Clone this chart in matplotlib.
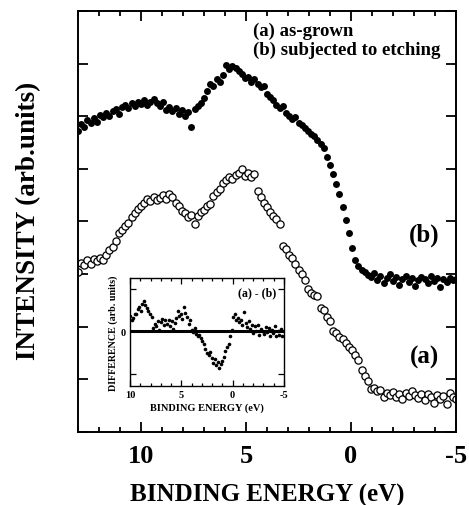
import matplotlib.pyplot as plt
from matplotlib.ticker import MultipleLocator, FixedLocator

plt.rcParams['font.family'] = ['Liberation Serif', 'DejaVu Serif']
plt.rcParams['font.weight'] = 'bold'

# binding energy grid (eV)
energy = [13.00, 12.85, 12.70, 12.55, 12.40, 12.25, 12.10, 11.95, 11.80, 11.65,
          11.50, 11.35, 11.20, 11.05, 10.90, 10.75, 10.60, 10.45, 10.30, 10.15,
          10.00, 9.85, 9.70, 9.55, 9.40, 9.25, 9.10, 8.95, 8.80, 8.65,
          8.50, 8.35, 8.20, 8.05, 7.90, 7.75, 7.60, 7.45, 7.30, 7.15,
          7.00, 6.85, 6.70, 6.55, 6.40, 6.25, 6.10, 5.95, 5.80, 5.65,
          5.50, 5.35, 5.20, 5.05, 4.90, 4.75, 4.60, 4.45, 4.30, 4.15,
          4.00, 3.85, 3.70, 3.55, 3.40, 3.25, 3.10, 2.95, 2.80, 2.65,
          2.50, 2.35, 2.20, 2.05, 1.90, 1.75, 1.60, 1.45, 1.30, 1.15,
          1.00, 0.85, 0.70, 0.55, 0.40, 0.25, 0.10, -0.05, -0.20, -0.35,
          -0.50, -0.65, -0.80, -0.95, -1.10, -1.25, -1.40, -1.55, -1.70, -1.85,
          -2.00, -2.15, -2.30, -2.45, -2.60, -2.75, -2.90, -3.05, -3.20, -3.35,
          -3.50, -3.65, -3.80, -3.95, -4.10, -4.25, -4.40, -4.55, -4.70, -4.85,
          -5.00]

# (b) subjected to etching (filled)
int_b = [5.72, 5.86, 5.80, 5.92, 5.88, 5.96, 5.90, 6.02, 5.98, 6.06,
         6.00, 6.10, 6.14, 6.05, 6.18, 6.22, 6.15, 6.26, 6.20, 6.28,
         6.24, 6.30, 6.22, 6.28, 6.32, 6.25, 6.20, 6.27, 6.12, 6.18,
         6.10, 6.16, 6.04, 6.12, 6.00, 6.08, 5.80, 6.14, 6.20, 6.26,
         6.34, 6.48, 6.62, 6.58, 6.70, 6.66, 6.78, 6.98, 6.90, 6.95,
         6.92, 6.86, 6.80, 6.72, 6.75, 6.66, 6.70, 6.62, 6.55, 6.58,
         6.42, 6.36, 6.30, 6.22, 6.16, 6.20, 6.06, 6.00, 5.95, 5.98,
         5.88, 5.84, 5.78, 5.72, 5.66, 5.62, 5.55, 5.48, 5.40, 5.22,
         5.08, 4.90, 4.72, 4.52, 4.28, 4.02, 3.78, 3.50, 3.26, 3.16,
         3.08, 3.04, 2.98, 2.94, 3.02, 2.88, 2.96, 2.84, 2.92, 3.00,
         2.86, 2.94, 2.80, 2.90, 2.97, 2.85, 2.92, 2.78, 2.88, 2.95,
         2.90, 2.83, 2.96, 2.87, 2.92, 2.76, 2.90, 2.85, 2.93, 2.88,
         2.90]

# (a) as-grown (open)
int_a = [3.04, 3.22, 3.18, 3.26, 3.20, 3.28, 3.24, 3.30, 3.26, 3.36,
         3.46, 3.52, 3.62, 3.78, 3.84, 3.92, 3.98, 4.08, 4.16, 4.24,
         4.30, 4.36, 4.42, 4.38, 4.46, 4.40, 4.44, 4.50, 4.42, 4.52,
         4.46, 4.36, 4.30, 4.20, 4.16, 4.08, 4.12, 3.96, 4.10, 4.18,
         4.22, 4.30, 4.34, 4.48, 4.56, 4.62, 4.74, 4.78, 4.84, 4.80,
         4.88, 4.92, 5.00, 4.86, 4.92, 4.84, 4.90, 4.58, 4.46, 4.36,
         4.28, 4.18, 4.10, 4.04, 3.96, 3.54, 3.48, 3.36, 3.30, 3.20,
         3.08, 3.00, 2.88, 2.72, 2.64, 2.60, 2.58, 2.36, 2.32, 2.18,
         2.10, 1.92, 1.88, 1.80, 1.76, 1.70, 1.62, 1.56, 1.46, 1.36,
         1.18, 1.06, 0.96, 0.82, 0.84, 0.78, 0.80, 0.66, 0.74, 0.70,
         0.76, 0.66, 0.72, 0.62, 0.74, 0.68, 0.78, 0.70, 0.64, 0.72,
         0.60, 0.72, 0.66, 0.56, 0.70, 0.62, 0.68, 0.54, 0.74, 0.66,
         0.62]

# inset: (a) - (b), energies 10 .. -5 eV
energy_diff = energy[20:]
diff = [0.36, 0.28, 0.32, 0.42, 0.40, 0.52, 0.58, 0.48, 0.64, 0.72,
        0.62, 0.56, 0.48, 0.42, 0.34, 0.08, 0.18, 0.12, 0.24, 0.04,
        0.22, 0.30, 0.14, 0.28, 0.18, 0.26, 0.12, 0.24, 0.06, 0.20,
        0.32, 0.48, 0.36, 0.42, 0.30, 0.58, 0.44, 0.34, 0.18, 0.26,
        0.04, -0.02, 0.08, -0.06, -0.12, -0.08, -0.16, -0.22, -0.30, -0.42,
        -0.50, -0.56, -0.48, -0.62, -0.74, -0.66, -0.80, -0.72, -0.86, -0.78,
        -0.70, -0.60, -0.46, -0.38, -0.30, -0.12, 0.04, 0.34, 0.40, 0.28,
        0.32, 0.22, 0.26, 0.16, 0.46, 0.20, 0.10, 0.24, 0.06, 0.14,
        -0.04, 0.12, 0.02, 0.16, -0.08, 0.06, 0.00, -0.06, 0.10, -0.02,
        0.08, -0.10, 0.04, -0.04, 0.12, -0.12, 0.02, -0.08, 0.06, -0.10,
        0.00]

fig = plt.figure(figsize=(4.69, 5.06), dpi=100)
ax = fig.add_axes([0.1663, 0.1443, 0.806, 0.832])

ax.plot(energy, int_b, 'o', color='black', markersize=5.0, markeredgewidth=0)
ax.plot(energy, int_a, 'o', markerfacecolor='white', markeredgecolor='black',
        markersize=5.2, markeredgewidth=0.9)

ax.set_xlim(13, -5)
ax.set_ylim(0, 8)
ax.xaxis.set_major_locator(MultipleLocator(5))
ax.xaxis.set_minor_locator(MultipleLocator(1))
ax.yaxis.set_major_locator(MultipleLocator(1))
ax.tick_params(which='both', direction='in', top=True, right=True, width=1.3)
ax.tick_params(which='major', length=7, labelsize=19, pad=9)
ax.tick_params(which='minor', length=3.5)
ax.tick_params(axis='y', labelleft=False)
ax.set_xticks([10, 5, 0, -5])
ax.set_xticklabels(['10', '5', '0', '-5'], fontweight='bold')
for s in ax.spines.values():
    s.set_linewidth(1.4)

ax.set_xlabel('BINDING ENERGY (eV)', fontsize=18, fontweight='bold', labelpad=11)
ax.set_ylabel('INTENSITY (arb.units)', fontsize=19.5, fontweight='bold')
ax.yaxis.set_label_coords(-0.097, 0.505)

ax.text(0.463, 0.955, '(a) as-grown', transform=ax.transAxes, fontsize=13.5,
        fontweight='bold', va='center', ha='left')
ax.text(0.463, 0.910, '(b) subjected to etching', transform=ax.transAxes, fontsize=13.5,
        fontweight='bold', va='center', ha='left')
ax.text(-3.5, 3.76, '(b)', fontsize=18, fontweight='bold', ha='center', va='center')
ax.text(-3.5, 1.44, '(a)', fontsize=18, fontweight='bold', ha='center', va='center')

# inset
ins = fig.add_axes([0.2772, 0.2352, 0.3284, 0.2134])
ins.axhline(0, color='black', lw=2.2)
ins.plot(energy_diff, diff, 'o', color='black', markersize=2.6, markeredgewidth=0)
ins.set_xlim(10, -5)
ins.set_ylim(-1.29, 1.26)
ins.xaxis.set_major_locator(MultipleLocator(5))
ins.xaxis.set_minor_locator(MultipleLocator(1))
ins.yaxis.set_major_locator(FixedLocator([-1, 0, 1]))
ins.set_yticklabels(['', '0', ''])
ins.tick_params(which='both', direction='in', top=True, right=True, width=0.9)
ins.tick_params(which='major', length=4, labelsize=7.5, pad=3)
ins.tick_params(which='minor', length=2)
ins.set_xticks([10, 5, 0, -5])
ins.set_xticklabels(['10', '5', '0', '-5'], fontweight='bold')
for lbl in ins.get_yticklabels():
    lbl.set_fontweight('bold')
for s in ins.spines.values():
    s.set_linewidth(1.0)
ins.set_xlabel('BINDING ENERGY (eV)', fontsize=7.5, fontweight='bold', labelpad=2)
ins.set_ylabel('DIFFERENCE (arb. units)', fontsize=7.2, fontweight='bold', labelpad=2)
ins.text(0.95, 0.87, '(a) - (b)', transform=ins.transAxes, fontsize=8.5,
         fontweight='bold', ha='right', va='center')

fig.savefig('out.png', dpi=100)
